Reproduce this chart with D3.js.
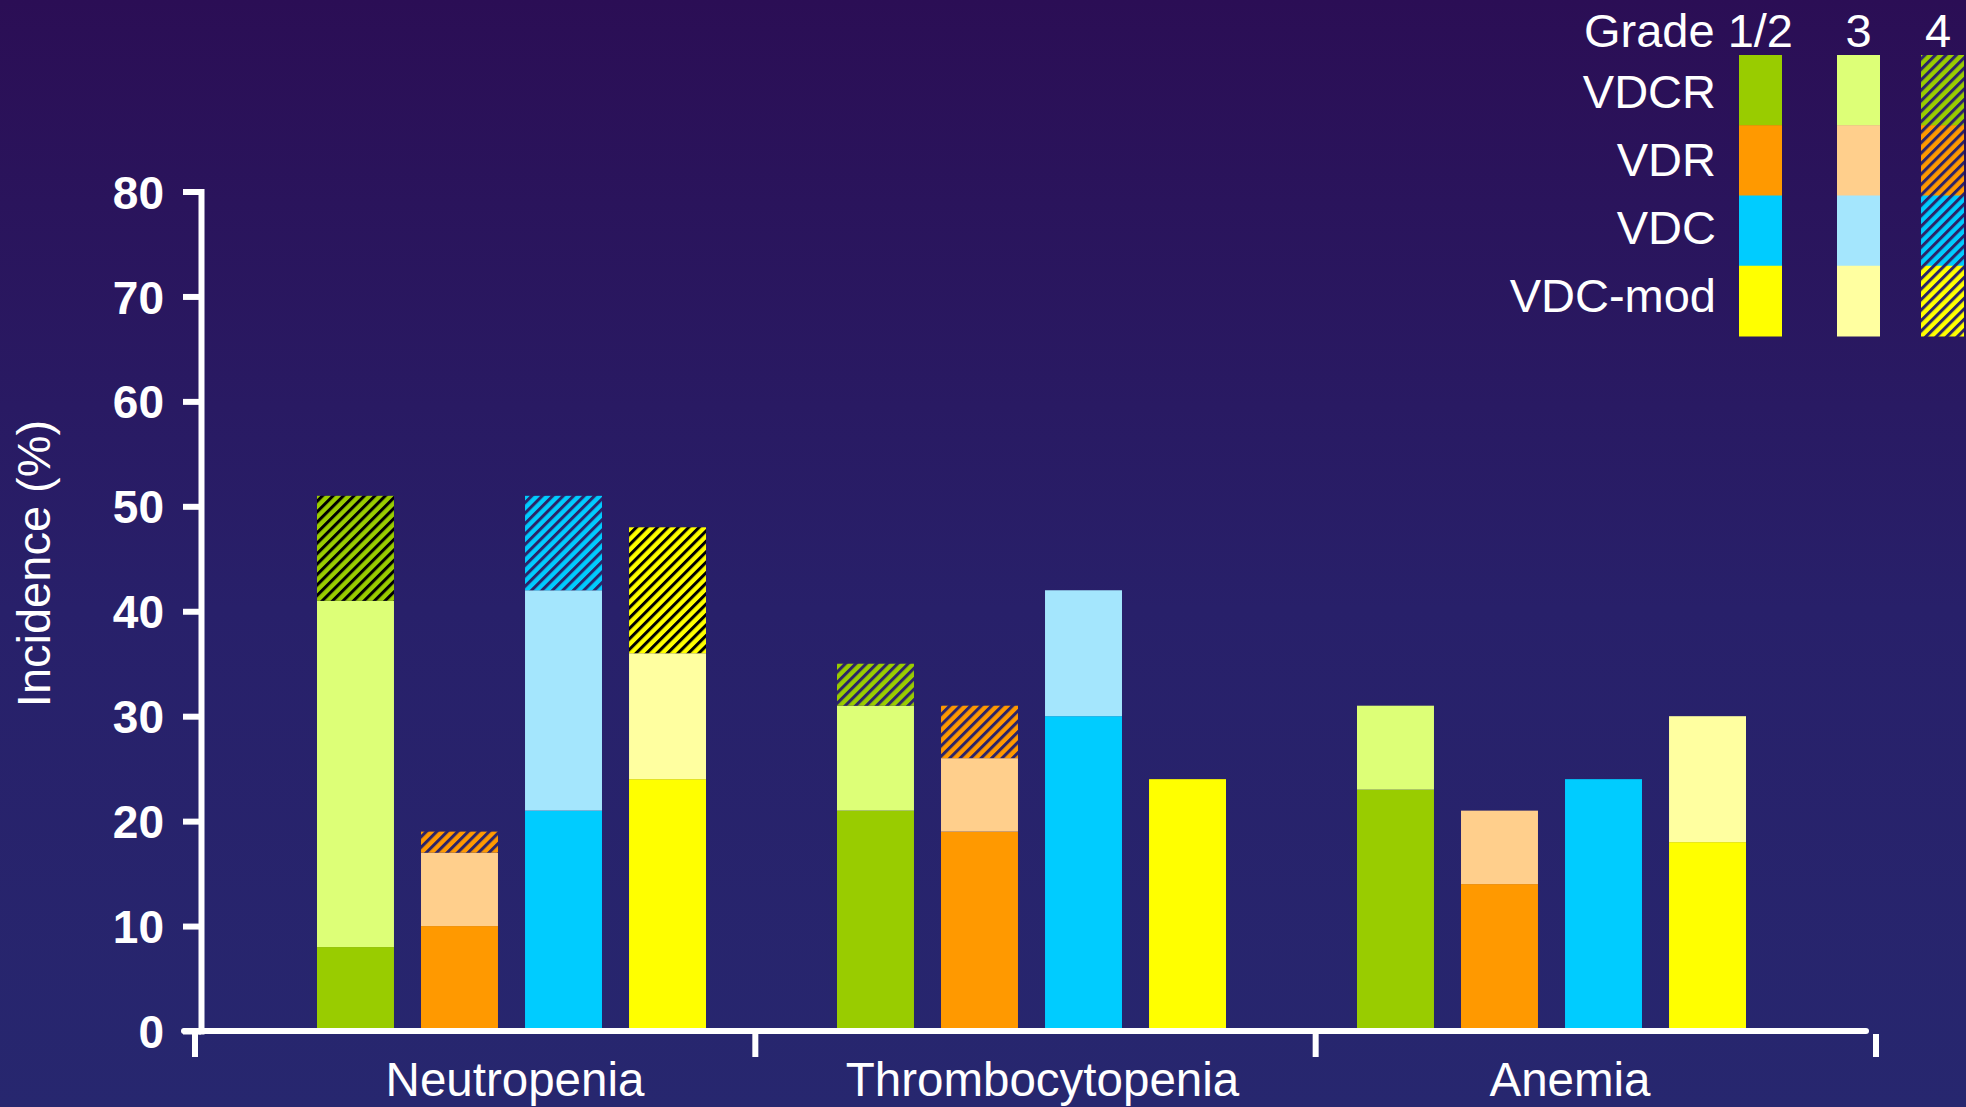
<!DOCTYPE html>
<html>
<head>
<meta charset="utf-8">
<script src="https://cdn.jsdelivr.net/npm/d3@7"></script>
<style>
  html, body { margin: 0; padding: 0; background: #28206a; }
  svg { display: block; }
  text { font-family: "Liberation Sans", Arial, sans-serif; fill: #ffffff; }
</style>
</head>
<body>
<svg id="chart" width="1966" height="1107"></svg>
<script>
// ---- data ----
const categories = ["Neutropenia", "Thrombocytopenia", "Anemia"];
const series = ["VDCR", "VDR", "VDC", "VDC-mod"];
const gradeLabels = ["Grade 1/2", "3", "4"];
// values per category (rows) and series (columns), in %
const grade12 = [
  [8, 10, 21, 24],
  [21, 19, 30, 24],
  [23, 14, 24, 18]
];
const grade3 = [
  [33, 7, 21, 12],
  [10, 7, 12, 0],
  [8, 7, 0, 12]
];
const grade4 = [
  [10, 2, 9, 12],
  [4, 5, 0, 0],
  [0, 0, 0, 0]
];
const yTicks = [0, 10, 20, 30, 40, 50, 60, 70, 80];

// ---- styles ----
const colors12 = ["#99cc00", "#ff9900", "#00ccff", "#ffff00"];
const colors3 = ["#ddff77", "#ffcf8c", "#a4e6fd", "#ffffa0"];
const stripeNavy = "#2c2468";
const stripeBlack = "#000000";
const blackStripeBars = ["Neutropenia|VDCR", "Neutropenia|VDC-mod"];

const svg = d3.select("#chart");
const W = 1966, H = 1107;
const defs = svg.append("defs");

// background gradient
const bg = defs.append("linearGradient").attr("id", "bg")
  .attr("x1", 0).attr("y1", 0).attr("x2", 0).attr("y2", 1);
bg.append("stop").attr("offset", "0%").attr("stop-color", "#2b0e55");
bg.append("stop").attr("offset", "55%").attr("stop-color", "#28206a");
bg.append("stop").attr("offset", "100%").attr("stop-color", "#27276f");
svg.append("rect").attr("width", W).attr("height", H).attr("fill", "url(#bg)");

// hatch patterns
const P = 7.4, SW = 3.0;
function hatchId(i, dark) { return "hatch-" + i + (dark ? "-k" : "-n"); }
series.forEach((s, i) => {
  [false, true].forEach(dark => {
    const p = defs.append("pattern").attr("id", hatchId(i, dark))
      .attr("patternUnits", "userSpaceOnUse")
      .attr("width", P).attr("height", P)
      .attr("patternTransform", "rotate(45)");
    p.append("rect").attr("width", P).attr("height", P).attr("fill", colors12[i]);
    p.append("rect").attr("x", 0).attr("width", SW).attr("height", P)
      .attr("fill", dark ? stripeBlack : stripeNavy);
  });
});

// ---- scales ----
const y = d3.scaleLinear().domain([0, 80]).range([1031, 191.5]);
const x0 = d3.scaleBand().domain(categories).range([317, 317 + 3 * 520]);
const x1 = d3.scaleBand().domain(series).range([0, 389]).paddingInner(0.26).paddingOuter(0);
const xAxisBand = d3.scaleBand().domain(categories).range([195, 1876]);
const xLabel = d3.scalePoint().domain(categories).range([515, 1570]);

// ---- bars ----
const barsG = svg.append("g");
categories.forEach((c, ci) => {
  series.forEach((s, si) => {
    const g12 = grade12[ci][si], g3 = grade3[ci][si], g4 = grade4[ci][si];
    const bx = x0(c) + x1(s), bw = x1.bandwidth();
    const dark = blackStripeBars.includes(c + "|" + s);
    const segs = [
      { lo: 0, hi: g12, fill: colors12[si] },
      { lo: g12, hi: g12 + g3, fill: colors3[si] },
      { lo: g12 + g3, hi: g12 + g3 + g4, fill: "url(#" + hatchId(si, dark) + ")" }
    ].filter(d => d.hi > d.lo);
    barsG.selectAll(null).data(segs).enter().append("rect")
      .attr("x", bx)
      .attr("width", bw)
      .attr("y", d => y(d.hi))
      .attr("height", d => y(d.lo) - y(d.hi))
      .attr("fill", d => d.fill);
  });
});

// ---- y axis ----
const yAxis = d3.axisLeft(y).tickValues(yTicks).tickSize(18).tickSizeOuter(0).tickPadding(19);
const yG = svg.append("g").attr("transform", "translate(201,0)").call(yAxis);
yG.select(".domain").attr("stroke", "#ffffff").attr("stroke-width", 6).attr("stroke-linecap", "square");
yG.selectAll(".tick line").attr("stroke", "#ffffff").attr("stroke-width", 6);
yG.selectAll(".tick text")
  .attr("fill", "#ffffff")
  .style("font-family", "'Liberation Sans', Arial, sans-serif")
  .style("font-weight", "bold")
  .style("font-size", "46px")
  .attr("dy", "0.36em");

svg.append("text")
  .attr("transform", "translate(50,563.5) rotate(-90)")
  .attr("text-anchor", "middle")
  .style("font-size", "47px")
  .text("Incidence (%)");

// ---- x axis ----
const xG = svg.append("g");
xG.append("line")
  .attr("x1", 184).attr("x2", 1866).attr("y1", y(0)).attr("y2", y(0))
  .attr("stroke", "#ffffff").attr("stroke-width", 6).attr("stroke-linecap", "round");
const bounds = categories.map(c => xAxisBand(c)).concat([xAxisBand.range()[1]]);
xG.selectAll(null).data(bounds).enter().append("line")
  .attr("x1", d => d).attr("x2", d => d)
  .attr("y1", y(0) + 3).attr("y2", 1057)
  .attr("stroke", "#ffffff").attr("stroke-width", 6);
xG.selectAll(null).data(categories).enter().append("text")
  .attr("x", d => xLabel(d))
  .attr("y", 1096)
  .attr("text-anchor", "middle")
  .style("font-size", "47.5px")
  .text(d => d);

// ---- legend ----
const lg = svg.append("g");
const colX = d3.scaleOrdinal().domain(gradeLabels).range([1739, 1837, 1921]);
const swW = 43;
const rowY = d3.scaleBand().domain(series).range([55, 336]);
const labelY = d3.scalePoint().domain(series).range([108, 312]);
const headerX = [1793, 1858.5, 1938];
lg.selectAll(null).data(gradeLabels).enter().append("text")
  .attr("x", (d, i) => headerX[i])
  .attr("y", 47)
  .attr("text-anchor", (d, i) => i === 0 ? "end" : "middle")
  .style("font-size", "47px")
  .text(d => d);
lg.selectAll(null).data(series).enter().append("text")
  .attr("x", 1716)
  .attr("y", d => labelY(d))
  .attr("text-anchor", "end")
  .style("font-size", "47px")
  .text(d => d);
series.forEach((s, si) => {
  const fills = [colors12[si], colors3[si], "url(#" + hatchId(si, false) + ")"];
  gradeLabels.forEach((g, gi) => {
    lg.append("rect")
      .attr("x", colX(g))
      .attr("y", rowY(s))
      .attr("width", swW)
      .attr("height", rowY.bandwidth() + 0.5)
      .attr("fill", fills[gi]);
  });
});
</script>
</body>
</html>
